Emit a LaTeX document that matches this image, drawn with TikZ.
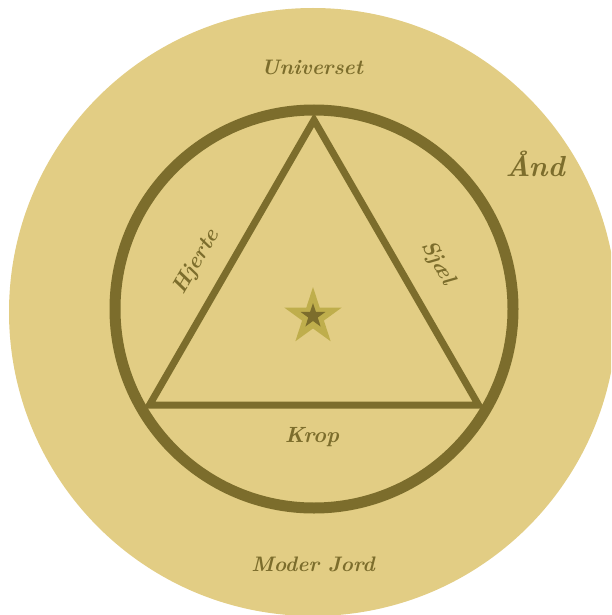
\documentclass[tikz,border=0pt]{standalone}
\usepackage{fontspec}
\usetikzlibrary{shapes.geometric}
\definecolor{tanfill}{HTML}{E2CD84}
\definecolor{olive}{HTML}{7C6D2C}
\definecolor{starlight}{HTML}{BFAE4C}
\begin{document}
\begin{tikzpicture}[x=1pt,y=-1pt,
  lbl/.style={text=olive, font=\fontsize{21}{25}\selectfont\bfseries\itshape, inner sep=0pt},
  sidelbl/.style={text=olive, font=\fontsize{22}{26}\selectfont\bfseries\itshape, inner sep=0pt},
  biglbl/.style={text=olive, font=\fontsize{29}{34}\selectfont\bfseries\itshape, inner sep=0pt},
  starshape/.style={star, star points=5, star point ratio=2.618, inner sep=0pt, draw=none}]
\useasboundingbox (0,0) rectangle (611,615);
\clip (0,0) rectangle (611,615);
% outer disc
\coordinate (O) at (313,312);
\fill[tanfill] (O) circle[radius=304];
% inner ring
\coordinate (M) at (314,309);
\draw[olive, line width=11pt] (M) circle[radius=199];
% triangle
\coordinate (A) at (314,120);
\coordinate (B) at (149.5,405);
\coordinate (C) at (478.5,405);
\draw[olive, line width=7pt, line join=miter] (A) -- (B) -- (C) -- cycle;
% star
\node[starshape, minimum size=60pt, fill=starlight] (star) at (313,317) {};
\node[starshape, minimum size=26pt, fill=olive] (starin) at (313,316) {};
% labels
\node[lbl] (univ) at (312,67) {Universet};
\node[biglbl] (and) at (535,164) {Ånd};
\node[lbl] (moder) at (313,564) {Moder Jord};
\node[sidelbl, rotate=60] (hjerte) at (197,262) {Hjerte};
\node[sidelbl, rotate=-60] (sjael) at (438,263) {Sjæl};
\node[sidelbl] (krop) at (312,437) {Krop};
\end{tikzpicture}
\end{document}
